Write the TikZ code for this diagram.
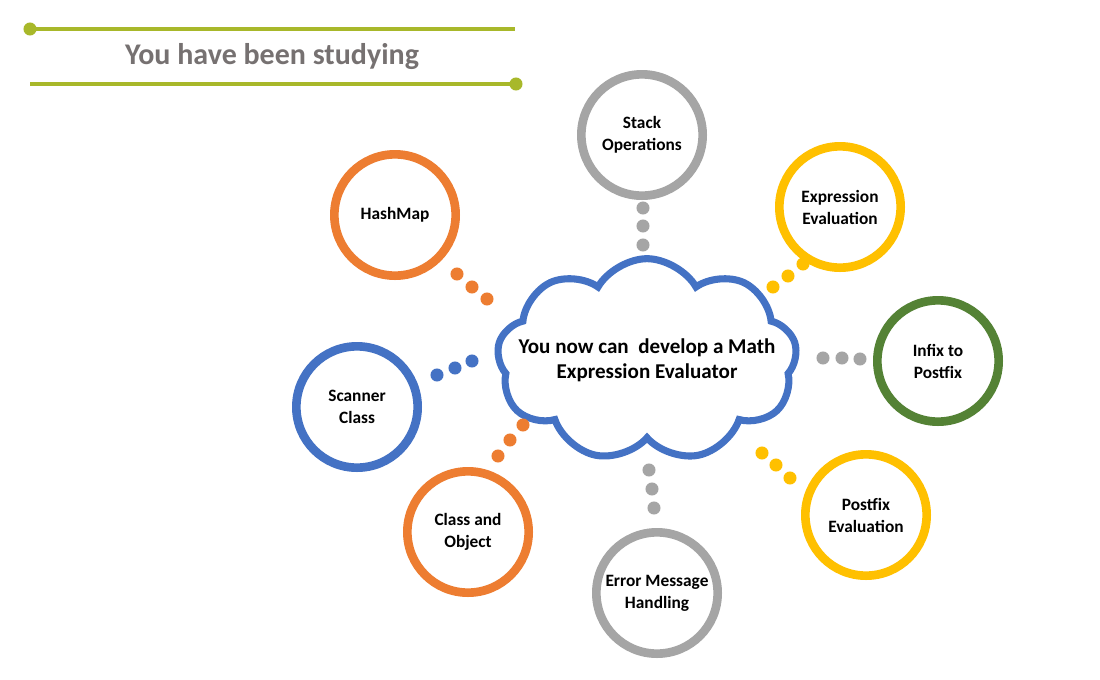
\documentclass[tikz,border=0pt]{standalone}
\usepackage{fontspec}
\setmainfont{Carlito}
\usepackage{tikz}
\usetikzlibrary{shapes.symbols,positioning}
\definecolor{limeline}{HTML}{A8B82A}
\definecolor{titlegray}{HTML}{767171}
\definecolor{orangeC}{HTML}{ED7D31}
\definecolor{grayC}{HTML}{A5A5A5}
\definecolor{yellowC}{HTML}{FFC000}
\definecolor{blueC}{HTML}{4472C4}
\definecolor{greenC}{HTML}{548235}

\tikzset{
  topic/.style={circle, draw=#1, line width=6.5pt, fill=white, minimum size=91pt,
    inner sep=0pt, align=center, font=\fontsize{13}{16.5}\selectfont\bfseries},
  cloudbox/.style={cloud, cloud puffs=9, cloud puff arc=120, cloud ignores aspect,
    draw=blueC, line width=5.3pt, fill=white, minimum width=225pt, minimum height=152pt,
    inner sep=0pt},
  titleline/.style={limeline, line width=3pt},
}

\begin{document}
\begin{tikzpicture}[x=0.75pt, y=-0.75pt]
\useasboundingbox (0,0) rectangle (1100,679);

% title
\node[font=\fontsize{22.5}{27}\selectfont\bfseries, text=titlegray] (title) at (272,57) {You have been studying};
\coordinate (tlA) at (30,29);
\coordinate (tlB) at (515,29);
\coordinate (blA) at (30,84);
\coordinate (blB) at (516,84);
\draw[titleline] (tlA) -- (tlB);
\draw[titleline] (blA) -- (blB);
\fill[limeline] (tlA) circle (4.9pt);
\fill[limeline] (blB) circle (4.9pt);

% centre
\node[cloudbox] (cloud) at (647,360) {};
\node[align=center, font=\fontsize{15.8}{19}\selectfont\bfseries] (goal) at (cloud.center)
  {You now can\ \ develop a Math\\Expression Evaluator};

% topics
\node[topic=grayC] (stack) at (642,135) {Stack\\Operations};
\node[topic=orangeC] (hashmap) at (395,215) {HashMap};
\node[topic=yellowC] (expreval) at (840,207) {Expression\\Evaluation};
\node[topic=greenC] (infix) at (938,361) {Infix to\\Postfix};
\node[topic=yellowC] (postfix) at (866,515) {Postfix\\Evaluation};
\node[topic=grayC] (errmsg) at (657,593) {Error Message\\Handling};
\node[topic=orangeC] (classobj) at (468,532) {Class and\\Object};
\node[topic=blueC] (scanner) at (357,407) {Scanner\\Class};

% dotted links
\foreach \p in {(643,208),(643,226),(643,245)} \fill[grayC] \p circle (4.9pt);
\foreach \p in {(457,274),(472,287),(487,299)} \fill[orangeC] \p circle (4.9pt);
\foreach \p in {(773,287),(788,276),(803,264)} \fill[yellowC] \p circle (4.9pt);
\foreach \p in {(823,358),(842,358),(860,359)} \fill[grayC] \p circle (4.9pt);
\foreach \p in {(762,453),(776,465),(790,478)} \fill[yellowC] \p circle (4.9pt);
\foreach \p in {(649,470),(652,489),(654,508)} \fill[grayC] \p circle (4.9pt);
\foreach \p in {(498,456),(510,440),(523,425)} \fill[orangeC] \p circle (4.9pt);
\foreach \p in {(437,375),(455,368),(472,361)} \fill[blueC] \p circle (4.9pt);
\end{tikzpicture}
\end{document}
